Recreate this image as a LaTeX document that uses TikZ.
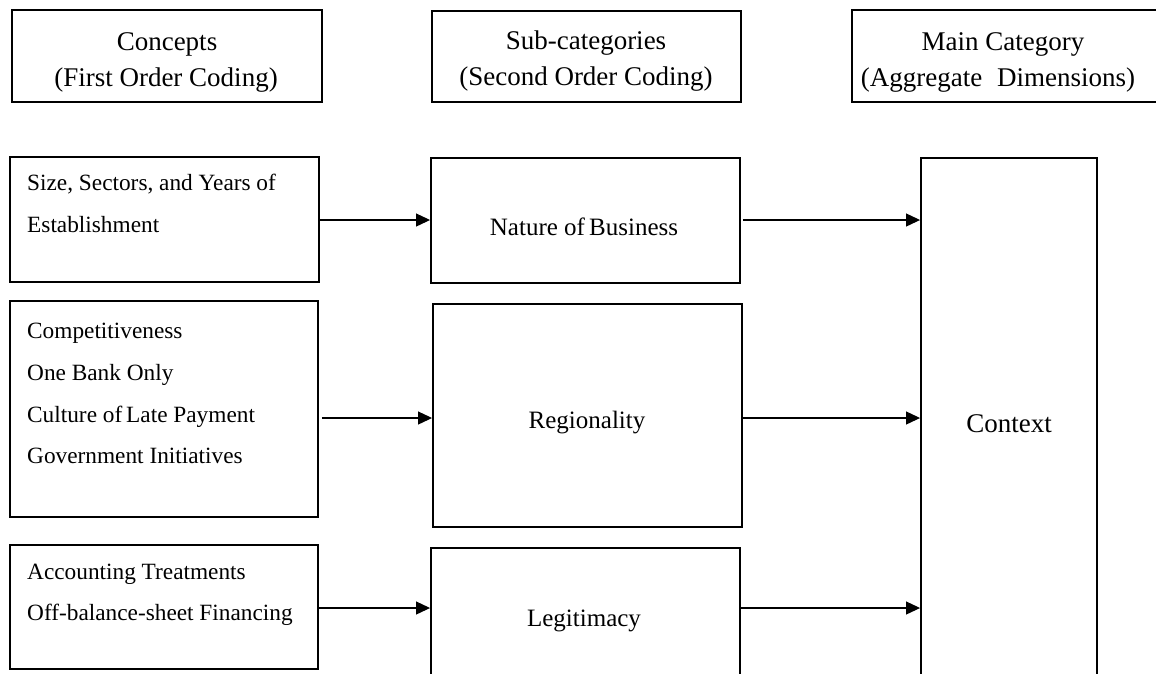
\documentclass[tikz,border=0pt]{standalone}
\usepackage{fontspec}
\setmainfont{Liberation Serif}
\usetikzlibrary{arrows.meta}
\begin{document}
\begin{tikzpicture}[x=1pt,y=-1pt,
  box/.style={draw=black,line width=1.9pt,rectangle,inner sep=0pt},
  headtext/.style={inner sep=0pt,anchor=base,font=\fontsize{27}{27}\selectfont},
  itemtext/.style={inner sep=0pt,anchor=base west,font=\fontsize{23.3}{23.3}\selectfont},
  midtext/.style={inner sep=0pt,anchor=base,font=\fontsize{25}{25}\selectfont},
  link/.style={draw=black,line width=1.1pt,-{Triangle[length=14pt,width=13pt]}}]
\useasboundingbox (0,0) rectangle (1156,673);
\clip (0,0) rectangle (1156,673);

% column headers
\node[box,minimum width=310pt,minimum height=92pt] (h1) at (167,56) {};
\node[box,minimum width=309pt,minimum height=91pt] (h2) at (586.5,56.5) {};
\node[box,minimum width=308pt,minimum height=92pt] (h3) at (1006,56) {};
\node[headtext] (h1a) at (167,50) {Concepts};
\node[headtext] (h1b) at (166,86) {(First Order Coding)};
\node[headtext] (h2a) at (586,49) {Sub-categories};
\node[headtext] (h2b) at (586,85) {(Second Order Coding)};
\node[headtext] (h3a) at (1003,50) {Main Category};
\node[headtext] (h3b) at (998,86) {(Aggregate\hspace{0.55em}Dimensions)};

% first order concepts
\node[box,minimum width=309pt,minimum height=125pt] (a1) at (164.5,219.5) {};
\node[box,minimum width=308pt,minimum height=216pt] (a2) at (164,409) {};
\node[box,minimum width=308pt,minimum height=124pt] (a3) at (164,607) {};
\node[itemtext] (a1t1) at (27,190) {Size, Sectors, and Years of};
\node[itemtext] (a1t2) at (27,232) {Establishment};
\node[itemtext] (a2t1) at (27,338) {Competitiveness};
\node[itemtext] (a2t2) at (27,380) {One Bank Only};
\node[itemtext] (a2t3) at (27,422) {Culture of\,Late Payment};
\node[itemtext] (a2t4) at (27,463) {Government Initiatives};
\node[itemtext] (a3t1) at (27,579) {Accounting Treatments};
\node[itemtext] (a3t2) at (27,620) {Off-balance-sheet Financing};

% second order sub-categories
\node[box,minimum width=309pt,minimum height=125pt] (b1) at (585.5,220.5) {};
\node[box,minimum width=309pt,minimum height=223pt] (b2) at (587.5,415.5) {};
\node[box,minimum width=309pt,minimum height=152pt] (b3) at (585.5,624) {};
\node[midtext] (b1t) at (584,235) {Nature of\,Business};
\node[midtext] (b2t) at (587,428) {Regionality};
\node[midtext] (b3t) at (584,626) {Legitimacy};

% aggregate dimension
\node[box,minimum width=176pt,minimum height=532pt] (c) at (1009,424) {};
\node[headtext] (ct) at (1009,432) {Context};

% row levels of the connectors
\coordinate (r1) at (0,220);
\coordinate (r2) at (0,418);
\coordinate (r3) at (0,608);

\draw[link] (a1.east |- r1) -- (b1.west |- r1);
\draw[link] ([xshift=3pt]a2.east |- r2) -- (b2.west |- r2);
\draw[link] (a3.east |- r3) -- (b3.west |- r3);
\draw[link] ([xshift=2pt]b1.east |- r1) -- (c.west |- r1);
\draw[link] (b2.east |- r2) -- (c.west |- r2);
\draw[link] (b3.east |- r3) -- (c.west |- r3);
\end{tikzpicture}
\end{document}
